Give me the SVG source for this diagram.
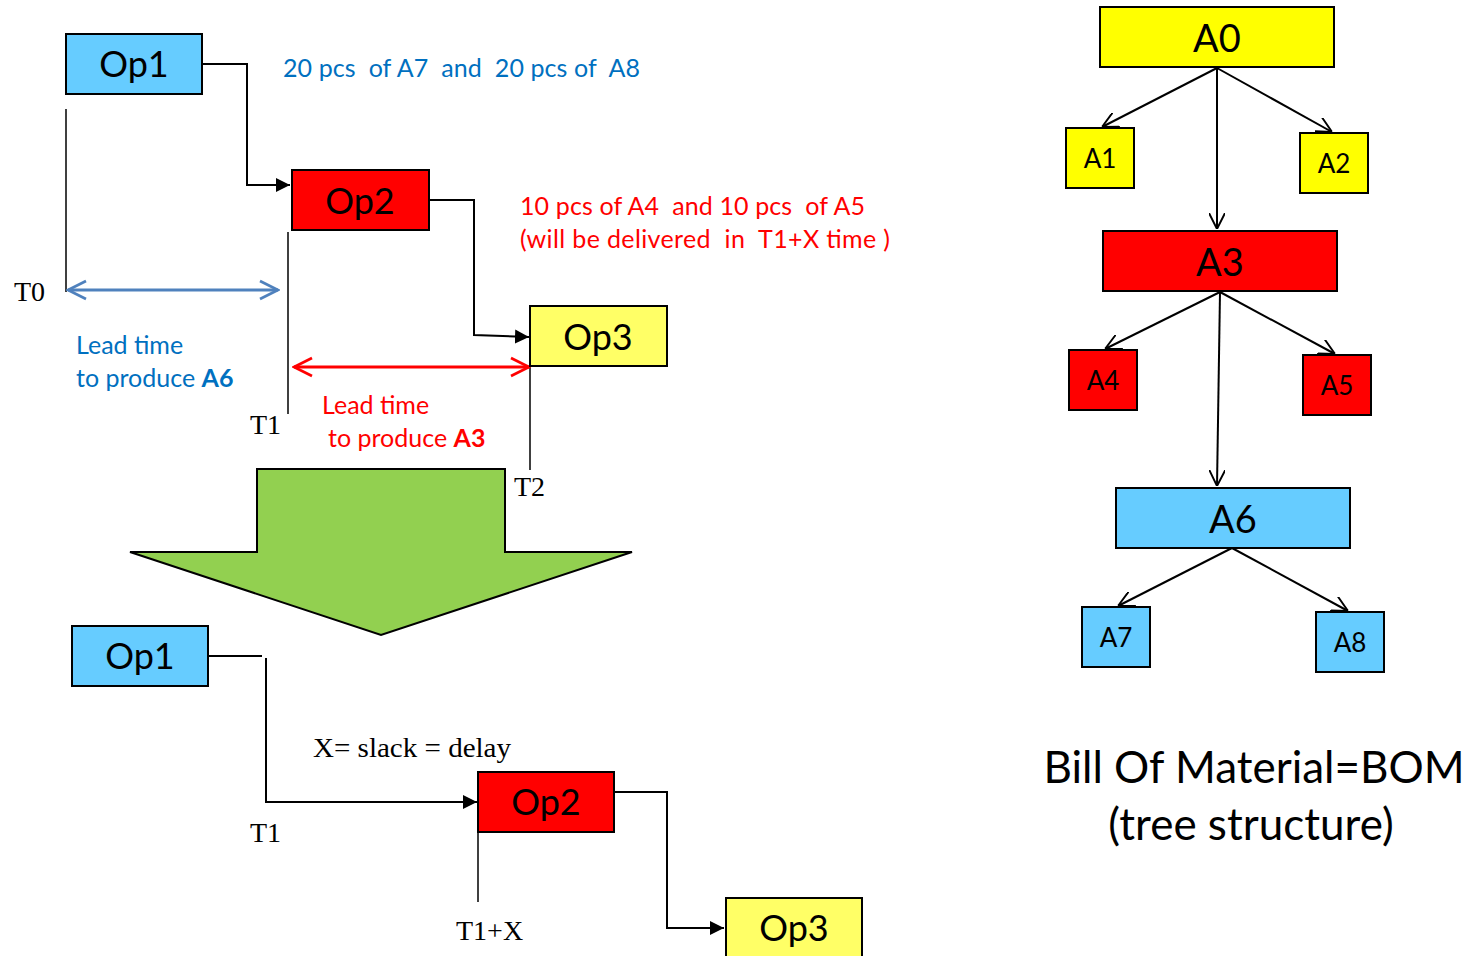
<svg xmlns="http://www.w3.org/2000/svg" width="1478" height="956" viewBox="0 0 1478 956">
<style>
.box{stroke:#000;stroke-width:2}
.blue{fill:#66CCFF}.red{fill:#FF0000}.yel{fill:#FFFF00}.ly{fill:#FFFF66}
.lbl{font-family:Lato,"Open Sans",sans-serif;fill:#000;text-anchor:middle}
.op{font-size:36px}
.big{font-size:38px}
.sm{font-size:26px}
.tm{font-family:"Liberation Serif",serif;font-size:28px;fill:#000}
.bt{font-family:Lato,"Open Sans",sans-serif;font-size:25px;fill:#0070C0;white-space:pre}
.rt{font-family:Lato,"Open Sans",sans-serif;font-size:25px;fill:#FF0000;white-space:pre}
.ln{stroke:#000;stroke-width:1.5;fill:none}
.cn{stroke:#000;stroke-width:2;fill:none}
</style>
<defs>
<marker id="tri" viewBox="0 0 10 10" refX="10" refY="5" markerWidth="7" markerHeight="7" orient="auto" markerUnits="strokeWidth"><path d="M0,0 L10,5 L0,10 Z" fill="#000"/></marker>
<marker id="open" viewBox="0 0 10 10" refX="10" refY="5" markerWidth="8" markerHeight="8" orient="auto" markerUnits="strokeWidth"><path d="M0,0 L10,5 L0,10" fill="none" stroke="#000" stroke-width="1.2"/></marker>
<marker id="bOpen" viewBox="0 0 10 10" refX="9" refY="5" markerWidth="7.5" markerHeight="7.5" orient="auto-start-reverse" markerUnits="strokeWidth"><path d="M1,1 L9,5 L1,9" fill="none" stroke="#4F81BD" stroke-width="1.2"/></marker>
<marker id="rOpen" viewBox="0 0 10 10" refX="9" refY="5" markerWidth="7.5" markerHeight="7.5" orient="auto-start-reverse" markerUnits="strokeWidth"><path d="M1,1 L9,5 L1,9" fill="none" stroke="#FF0000" stroke-width="1.2"/></marker>
</defs>
<rect width="1478" height="956" fill="#fff"/>

<!-- green arrow -->
<polygon points="257,469 505,469 505,552 632,552 381,635 130,552 257,552" fill="#92D050" stroke="#000" stroke-width="2"/>

<g id="connectors">
<polyline class="cn" points="202,64 247,64 247,185 290,185" marker-end="url(#tri)"/>
<polyline class="cn" points="429,200 474,200 474,335 529,337" marker-end="url(#tri)"/>
<line class="ln" x1="66" y1="109" x2="66" y2="292"/>
<line class="ln" x1="288" y1="232" x2="288" y2="414"/>
<line class="ln" x1="530" y1="366" x2="530" y2="470"/>
<line x1="68" y1="290" x2="278" y2="290" stroke="#4F81BD" stroke-width="3" marker-start="url(#bOpen)" marker-end="url(#bOpen)"/>
<line x1="294" y1="367" x2="529" y2="367" stroke="#FF0000" stroke-width="3" marker-start="url(#rOpen)" marker-end="url(#rOpen)"/>
<polyline class="cn" points="208,656 262,656"/>
<polyline class="cn" points="266,658 266,802 477,802" marker-end="url(#tri)"/>
<line class="ln" x1="478" y1="832" x2="478" y2="902"/>
<polyline class="cn" points="614,792 667,792 667,928 724,928" marker-end="url(#tri)"/>
<line class="cn" x1="1217" y1="68" x2="1102" y2="127" marker-end="url(#open)"/>
<line class="cn" x1="1217" y1="68" x2="1332" y2="132" marker-end="url(#open)"/>
<line class="cn" x1="1217" y1="68" x2="1217" y2="229" marker-end="url(#open)"/>
<line class="cn" x1="1220" y1="292" x2="1105" y2="349" marker-end="url(#open)"/>
<line class="cn" x1="1220" y1="292" x2="1335" y2="354" marker-end="url(#open)"/>
<line class="cn" x1="1220" y1="292" x2="1217" y2="486" marker-end="url(#open)"/>
<line class="cn" x1="1232" y1="548" x2="1118" y2="606" marker-end="url(#open)"/>
<line class="cn" x1="1232" y1="548" x2="1348" y2="611" marker-end="url(#open)"/>
</g>

<g id="op1-top"><rect class="box blue" x="66" y="34" width="136" height="60"/><text class="lbl op" x="134" y="77">Op1</text></g>
<g id="op2-top"><rect class="box red" x="292" y="170" width="137" height="60"/><text class="lbl op" x="360" y="214">Op2</text></g>
<g id="op3-top"><rect class="box ly" x="530" y="306" width="137" height="60"/><text class="lbl op" x="598" y="350">Op3</text></g>
<g id="op1-bot"><rect class="box blue" x="72" y="626" width="136" height="60"/><text class="lbl op" x="140" y="669">Op1</text></g>
<g id="op2-bot"><rect class="box red" x="478" y="772" width="136" height="60"/><text class="lbl op" x="546" y="815">Op2</text></g>
<g id="op3-bot"><rect class="box ly" x="726" y="898" width="136" height="62"/><text class="lbl op" x="794" y="941">Op3</text></g>

<g id="a0"><rect class="box yel" x="1100" y="7" width="234" height="60"/><text class="lbl big" x="1217" y="52">A0</text></g>
<g id="a1"><rect class="box yel" x="1066" y="128" width="68" height="60"/><text class="lbl sm" x="1100" y="168">A1</text></g>
<g id="a2"><rect class="box yel" x="1300" y="133" width="68" height="60"/><text class="lbl sm" x="1334" y="173">A2</text></g>
<g id="a3"><rect class="box red" x="1103" y="231" width="234" height="60"/><text class="lbl big" x="1220" y="276">A3</text></g>
<g id="a4"><rect class="box red" x="1069" y="350" width="68" height="60"/><text class="lbl sm" x="1103" y="390">A4</text></g>
<g id="a5"><rect class="box red" x="1303" y="355" width="68" height="60"/><text class="lbl sm" x="1337" y="395">A5</text></g>
<g id="a6"><rect class="box blue" x="1116" y="488" width="234" height="60"/><text class="lbl big" x="1233" y="533">A6</text></g>
<g id="a7"><rect class="box blue" x="1082" y="607" width="68" height="60"/><text class="lbl sm" x="1116" y="647">A7</text></g>
<g id="a8"><rect class="box blue" x="1316" y="612" width="68" height="60"/><text class="lbl sm" x="1350" y="652">A8</text></g>

<g id="labels">
<text class="bt" x="283" y="77" textLength="357" lengthAdjust="spacing">20 pcs  of A7  and  20 pcs of  A8</text>
<text class="rt" x="520" y="215" textLength="345" lengthAdjust="spacing">10 pcs of A4  and 10 pcs  of A5</text>
<text class="rt" x="520" y="248" textLength="370" lengthAdjust="spacing">(will be delivered  in  T1+X time )</text>
<text class="bt" x="76" y="354">Lead time</text>
<text class="bt" x="76" y="387">to produce <tspan font-weight="bold">A6</tspan></text>
<text class="rt" x="322" y="414">Lead time</text>
<text class="rt" x="328" y="447">to produce <tspan font-weight="bold">A3</tspan></text>
<text class="tm" x="14" y="301">T0</text>
<text class="tm" x="250" y="434">T1</text>
<text class="tm" x="514" y="496">T2</text>
<text class="tm" x="313" y="757" textLength="198" lengthAdjust="spacingAndGlyphs">X= slack = delay</text>
<text class="tm" x="250" y="842">T1</text>
<text class="tm" x="456" y="940">T1+X</text>
<text class="lbl" style="font-size:44px" x="1254" y="783">Bill Of Material=BOM</text>
<text class="lbl" style="font-size:44px" x="1251" y="840">(tree structure)</text>
</g>
</svg>
